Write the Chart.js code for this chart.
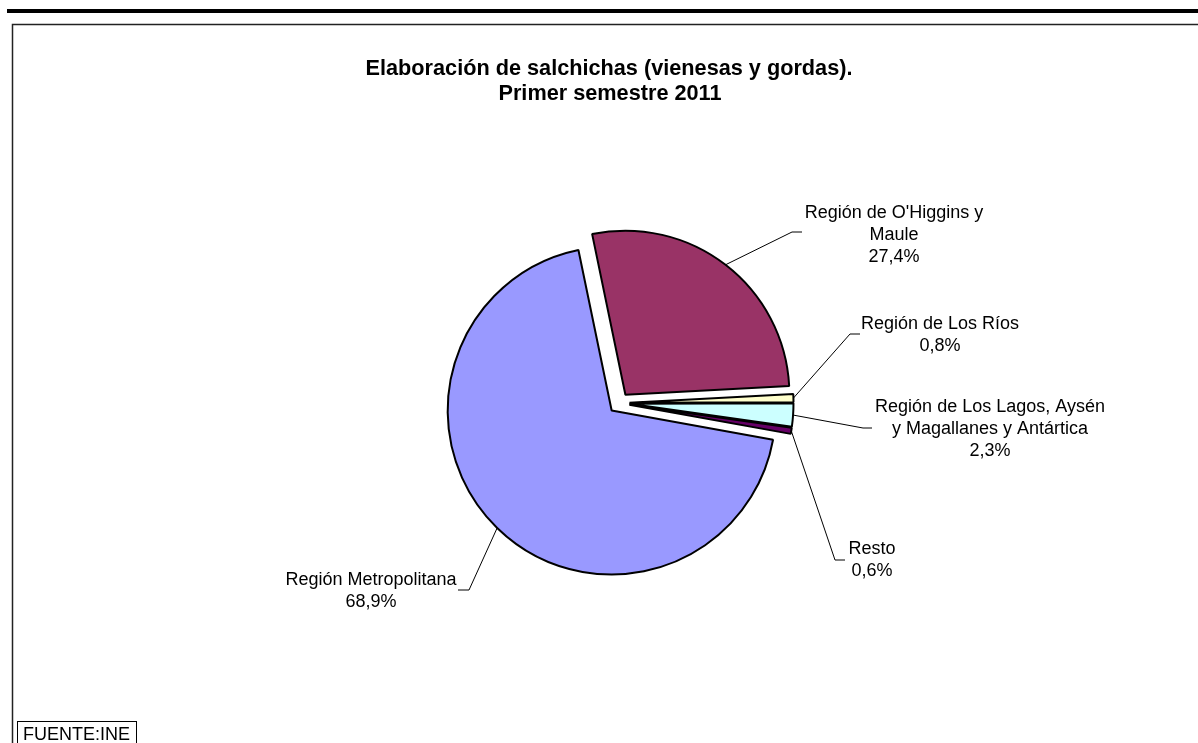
<!DOCTYPE html>
<html>
  <head>
    <meta charset="utf-8">
    <title>Elaboración de salchichas</title>
    <script src="https://cdn.jsdelivr.net/npm/chart.js@4/dist/chart.umd.min.js"></script>
    <style>
      body { margin: 0; background: #fff; }
      #wrap { width: 1198px; height: 743px; position: relative; }
    </style>
  </head>
  <body>
    <div id="wrap"><canvas id="myChart"></canvas></div>

    <script type="text/javascript">
      // data
      var regions = ["Región de O'Higgins y Maule", "Región de Los Ríos", "Región de Los Lagos, Aysén y Magallanes y Antártica", "Resto", "Región Metropolitana"];
      var shares = [27.4, 0.8, 2.3, 0.6, 68.9];
      var labelLines = [
        ["Región de O'Higgins y", "Maule"],
        ["Región de Los Ríos"],
        ["Región de Los Lagos, Aysén", "y Magallanes y Antártica"],
        ["Resto"],
        ["Región Metropolitana"]
      ];
      var colors = ['#993366', '#FFFFCC', '#CCFFFF', '#660066', '#9999FF'];

      // where each label sits (text center x, first line y, elbow of leader, stub end x)
      var labelPos = [
        { tx: 894, ty: 213, ex: 792, ey: 232, hx: 802 },
        { tx: 940, ty: 324, ex: 850, ey: 334, hx: 860 },
        { tx: 990, ty: 407, ex: 863, ey: 428, hx: 872 },
        { tx: 872, ty: 549, ex: 835, ey: 560, hx: 845 },
        { tx: 371, ty: 580, ex: 469, ey: 590, hx: 458 }
      ];
      var explode = 10.5; // px every slice is pulled out

      function fmt(v) {
        return v.toFixed(1).replace('.', ',') + '%';
      }

      var frame = {
        id: 'frame',
        beforeDraw: function(chart) {
          var c = chart.ctx;
          c.save();
          c.fillStyle = '#fff';
          c.fillRect(0, 0, chart.width, chart.height);
          // thick top rule
          c.fillStyle = '#000';
          c.fillRect(7, 9, chart.width - 7, 4);
          // thin frame
          c.strokeStyle = '#222';
          c.lineWidth = 1.5;
          c.beginPath();
          c.moveTo(12.5, chart.height + 2);
          c.lineTo(12.5, 24.5);
          c.lineTo(chart.width + 2, 24.5);
          c.stroke();
          c.restore();
        },
        // draw the arcs ourselves, shifted out, so they keep the same radius
        beforeDatasetDraw: function(chart, args) {
          var c = chart.ctx;
          args.meta.data.forEach(function(arc) {
            var mid = (arc.startAngle + arc.endAngle) / 2;
            c.save();
            c.translate(Math.cos(mid) * explode, Math.sin(mid) * explode);
            arc.draw(c);
            c.restore();
          });
          return false;
        },
        afterDraw: function(chart) {
          var c = chart.ctx;
          var meta = chart.getDatasetMeta(0);
          c.save();
          // title
          c.fillStyle = '#000';
          c.textAlign = 'center';
          c.textBaseline = 'alphabetic';
          c.font = 'bold 21.7px "Liberation Sans", Arial, sans-serif';
          c.fillText('Elaboración de salchichas (vienesas y gordas).', 609, 75);
          c.fillText('Primer semestre 2011', 610, 100);

          // leader lines and labels
          c.font = '18px "Liberation Sans", Arial, sans-serif';
          c.textBaseline = 'middle';
          c.strokeStyle = '#000';
          c.lineWidth = 1;
          meta.data.forEach(function(arc, i) {
            var mid = (arc.startAngle + arc.endAngle) / 2;
            var sx = arc.x + Math.cos(mid) * (arc.outerRadius + explode);
            var sy = arc.y + Math.sin(mid) * (arc.outerRadius + explode);
            var L = labelPos[i];
            c.beginPath();
            c.moveTo(sx, sy);
            c.lineTo(L.ex, L.ey);
            c.lineTo(L.hx, L.ey);
            c.stroke();
            var lines = labelLines[i].concat([fmt(shares[i])]);
            for (var k = 0; k < lines.length; k++) {
              c.fillText(lines[k], L.tx, L.ty + k * 22);
            }
          });

          // source box
          c.textAlign = 'left';
          c.textBaseline = 'alphabetic';
          c.fillText('FUENTE:INE', 23, 740);
          c.lineWidth = 1;
          c.strokeRect(17.5, 721.5, 119, 25);
          c.restore();
        }
      };

      var ctx = document.getElementById('myChart').getContext('2d');
      var chart = new Chart(ctx, {
        type: 'pie',
        data: {
          labels: regions,
          datasets: [{
            data: shares,
            backgroundColor: colors,
            borderColor: '#000',
            borderWidth: 2,
            offset: 0,
            hoverOffset: 0
          }]
        },
        options: {
          responsive: true,
          maintainAspectRatio: false,
          animation: false,
          events: [],
          rotation: -11.7,
          radius: 164,
          layout: {
            padding: { left: 319, right: 279, top: 153, bottom: 90 }
          },
          plugins: {
            legend: { display: false },
            title: { display: false },
            tooltip: { enabled: false }
          }
        },
        plugins: [frame]
      });
    </script>
  </body>
</html>
